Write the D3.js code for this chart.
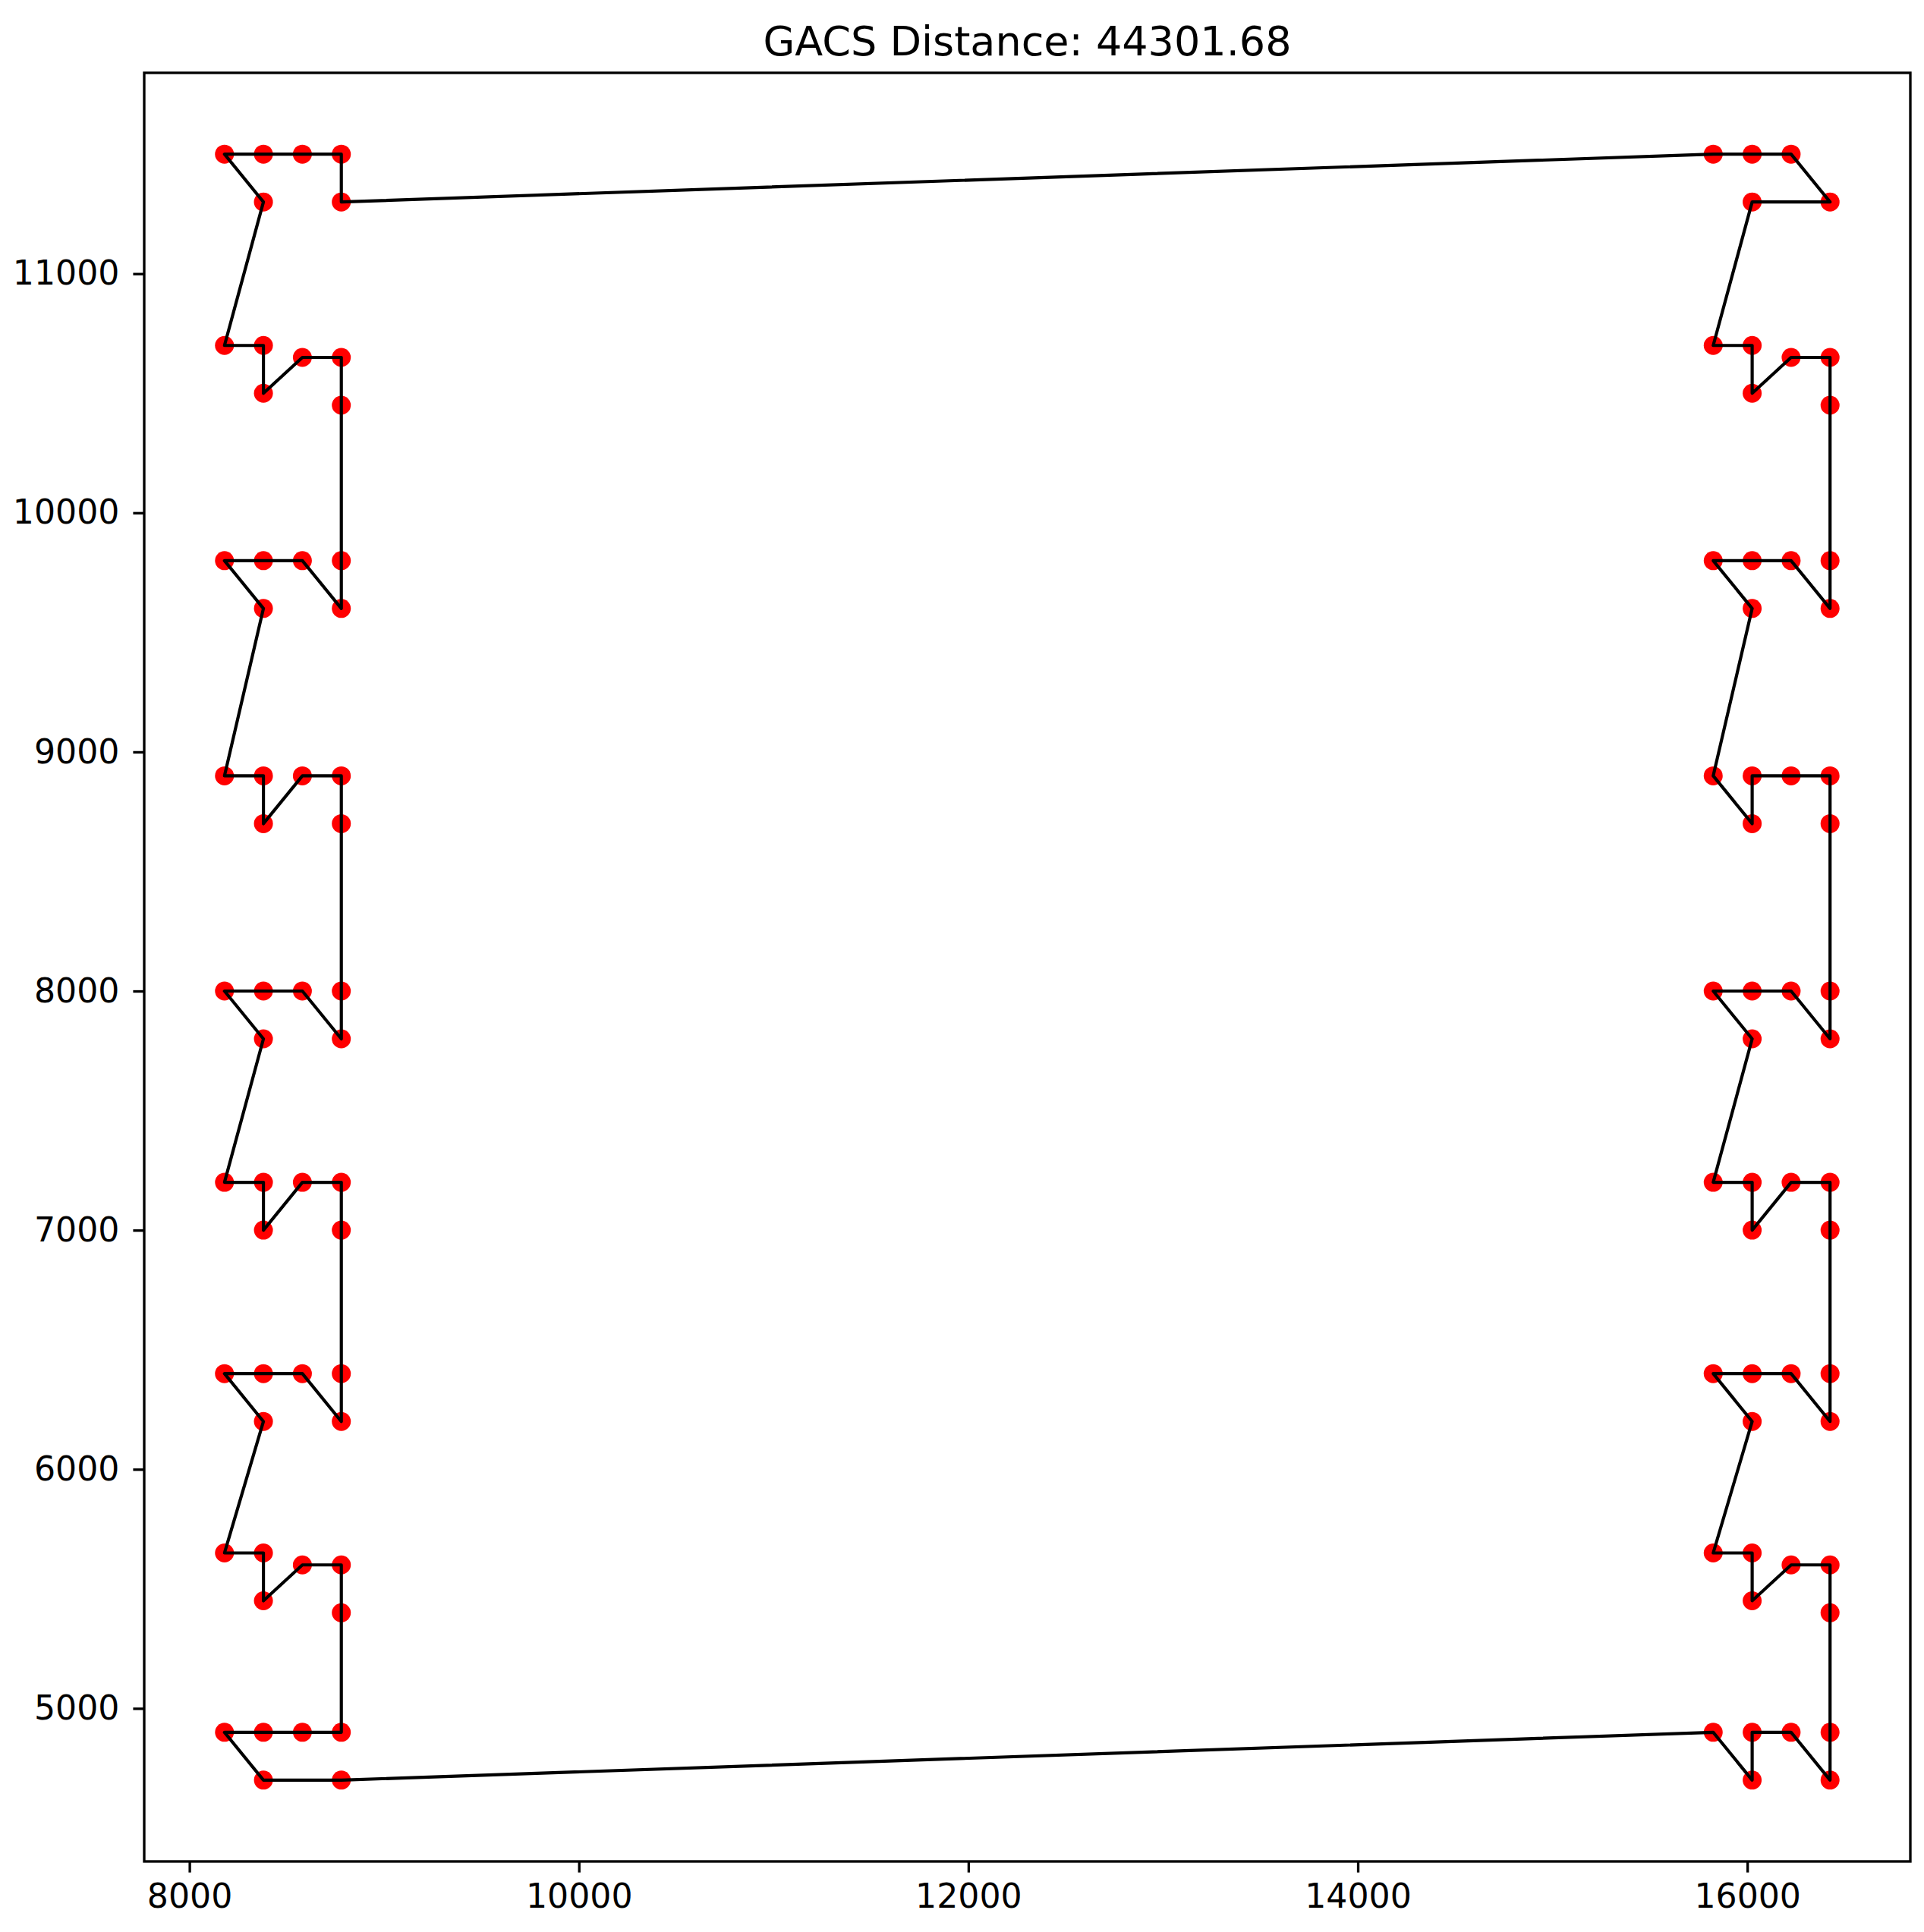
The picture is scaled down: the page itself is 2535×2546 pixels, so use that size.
<!DOCTYPE html>
<html lang="en">

<head>
    <meta charset="UTF-8">
    <title>GACS Distance</title>
    <script src="https://d3js.org/d3.v7.min.js"></script>
    <style>
        body {
            margin: 0;
            background: #fff;
        }

        text {
            font-family: "DejaVu Sans", sans-serif;
            fill: #000;
        }
    </style>
</head>

<body>
    <svg id="chart"></svg>

    <script>
        // tour order, city coordinates (closed back to the first city)
        const tourX = [
            8780, 15825, 16025, 16225, 16425, 16025, 15825, 16025, 16025, 16225,
            16425, 16425, 16425, 16425, 16225, 16025, 15825, 16025, 15825, 16025,
            16025, 16225, 16425, 16425, 16425, 16425, 16225, 16025, 15825, 16025,
            15825, 16025, 16025, 16225, 16425, 16425, 16425, 16425, 16225, 16025,
            15825, 16025, 15825, 16025, 16025, 16225, 16425, 16425, 16425, 16425,
            16225, 16025, 16025, 15825, 8780, 8380, 8180, 8380, 8580, 8780,
            8780, 8780, 8580, 8380, 8380, 8180, 8380, 8180, 8380, 8580,
            8780, 8780, 8780, 8780, 8580, 8380, 8380, 8180, 8380, 8180,
            8380, 8580, 8780, 8780, 8780, 8780, 8580, 8380, 8380, 8180,
            8380, 8180, 8380, 8580, 8780, 8780, 8780, 8780, 8580, 8380,
            8380, 8180, 8380, 8180, 8380, 8580, 8780
        ];
        const tourY = [
            11300, 11500, 11500, 11500, 11300, 11300, 10700, 10700, 10500, 10650,
            10650, 10450, 9800, 9600, 9800, 9800, 9800, 9600, 8900, 8700,
            8900, 8900, 8900, 8700, 8000, 7800, 8000, 8000, 8000, 7800,
            7200, 7200, 7000, 7200, 7200, 7000, 6400, 6200, 6400, 6400,
            6400, 6200, 5650, 5650, 5450, 5600, 5600, 5400, 4900, 4700,
            4900, 4900, 4700, 4900, 4700, 4700, 4900, 4900, 4900, 4900,
            5400, 5600, 5600, 5450, 5650, 5650, 6200, 6400, 6400, 6400,
            6200, 6400, 7000, 7200, 7200, 7000, 7200, 7200, 7800, 8000,
            8000, 8000, 7800, 8000, 8700, 8900, 8900, 8700, 8900, 8900,
            9600, 9800, 9800, 9800, 9600, 9800, 10450, 10650, 10650, 10500,
            10700, 10700, 11300, 11500, 11500, 11500, 11500
        ];
        const xTicks = [8000, 10000, 12000, 14000, 16000];
        const yTicks = [5000, 6000, 7000, 8000, 9000, 10000, 11000];
        const title = "GACS Distance: 44301.68";

        const W = 2535, H = 2546;
        const plot = { left: 190, right: 2517, top: 96, bottom: 2453 };
        const fs = 44.2;

        const svg = d3.select("#chart")
            .attr("width", W)
            .attr("height", H);

        const cities = tourX.map((x, i) => ({ x: x, y: tourY[i] }));

        // matplotlib style 5% margins
        const xExt = d3.extent(tourX), yExt = d3.extent(tourY);
        const xPad = (xExt[1] - xExt[0]) * 0.05;
        const yPad = (yExt[1] - yExt[0]) * 0.05;

        const x = d3.scaleLinear()
            .domain([xExt[0] - xPad, xExt[1] + xPad])
            .range([plot.left, plot.right]);
        const y = d3.scaleLinear()
            .domain([yExt[0] - yPad, yExt[1] + yPad])
            .range([plot.bottom, plot.top]);

        // points
        svg.append("g")
            .selectAll("circle")
            .data(cities)
            .enter().append("circle")
            .attr("cx", d => x(d.x))
            .attr("cy", d => y(d.y))
            .attr("r", 12.5)
            .attr("fill", "#ff0000");

        // tour line
        const line = d3.line()
            .x(d => x(d.x))
            .y(d => y(d.y))
            .curve(d3.curveLinearClosed);

        svg.append("path")
            .datum(cities)
            .attr("d", line)
            .attr("fill", "none")
            .attr("stroke", "#000")
            .attr("stroke-width", 4.17)
            .attr("stroke-linejoin", "round");

        // axes
        const xAxis = svg.append("g")
            .attr("transform", `translate(0,${plot.bottom})`)
            .call(d3.axisBottom(x).tickValues(xTicks).tickFormat(d3.format("d"))
                .tickSize(14.6).tickSizeOuter(0).tickPadding(15));
        const yAxis = svg.append("g")
            .attr("transform", `translate(${plot.left},0)`)
            .call(d3.axisLeft(y).tickValues(yTicks).tickFormat(d3.format("d"))
                .tickSize(14.6).tickSizeOuter(0).tickPadding(18));

        [xAxis, yAxis].forEach(g => {
            g.select(".domain").remove();
            g.selectAll(".tick line").attr("stroke", "#000").attr("stroke-width", 3.33);
            g.selectAll(".tick text")
                .style("font-family", "'DejaVu Sans', sans-serif")
                .style("font-size", fs + "px")
                .attr("fill", "#000");
        });

        // frame
        svg.append("rect")
            .attr("x", plot.left)
            .attr("y", plot.top)
            .attr("width", plot.right - plot.left)
            .attr("height", plot.bottom - plot.top)
            .attr("fill", "none")
            .attr("stroke", "#000")
            .attr("stroke-width", 3.33);

        svg.append("text")
            .attr("x", (plot.left + plot.right) / 2)
            .attr("y", plot.top - 23)
            .attr("text-anchor", "middle")
            .style("font-size", "54px")
            .text(title);
    </script>
</body>

</html>
